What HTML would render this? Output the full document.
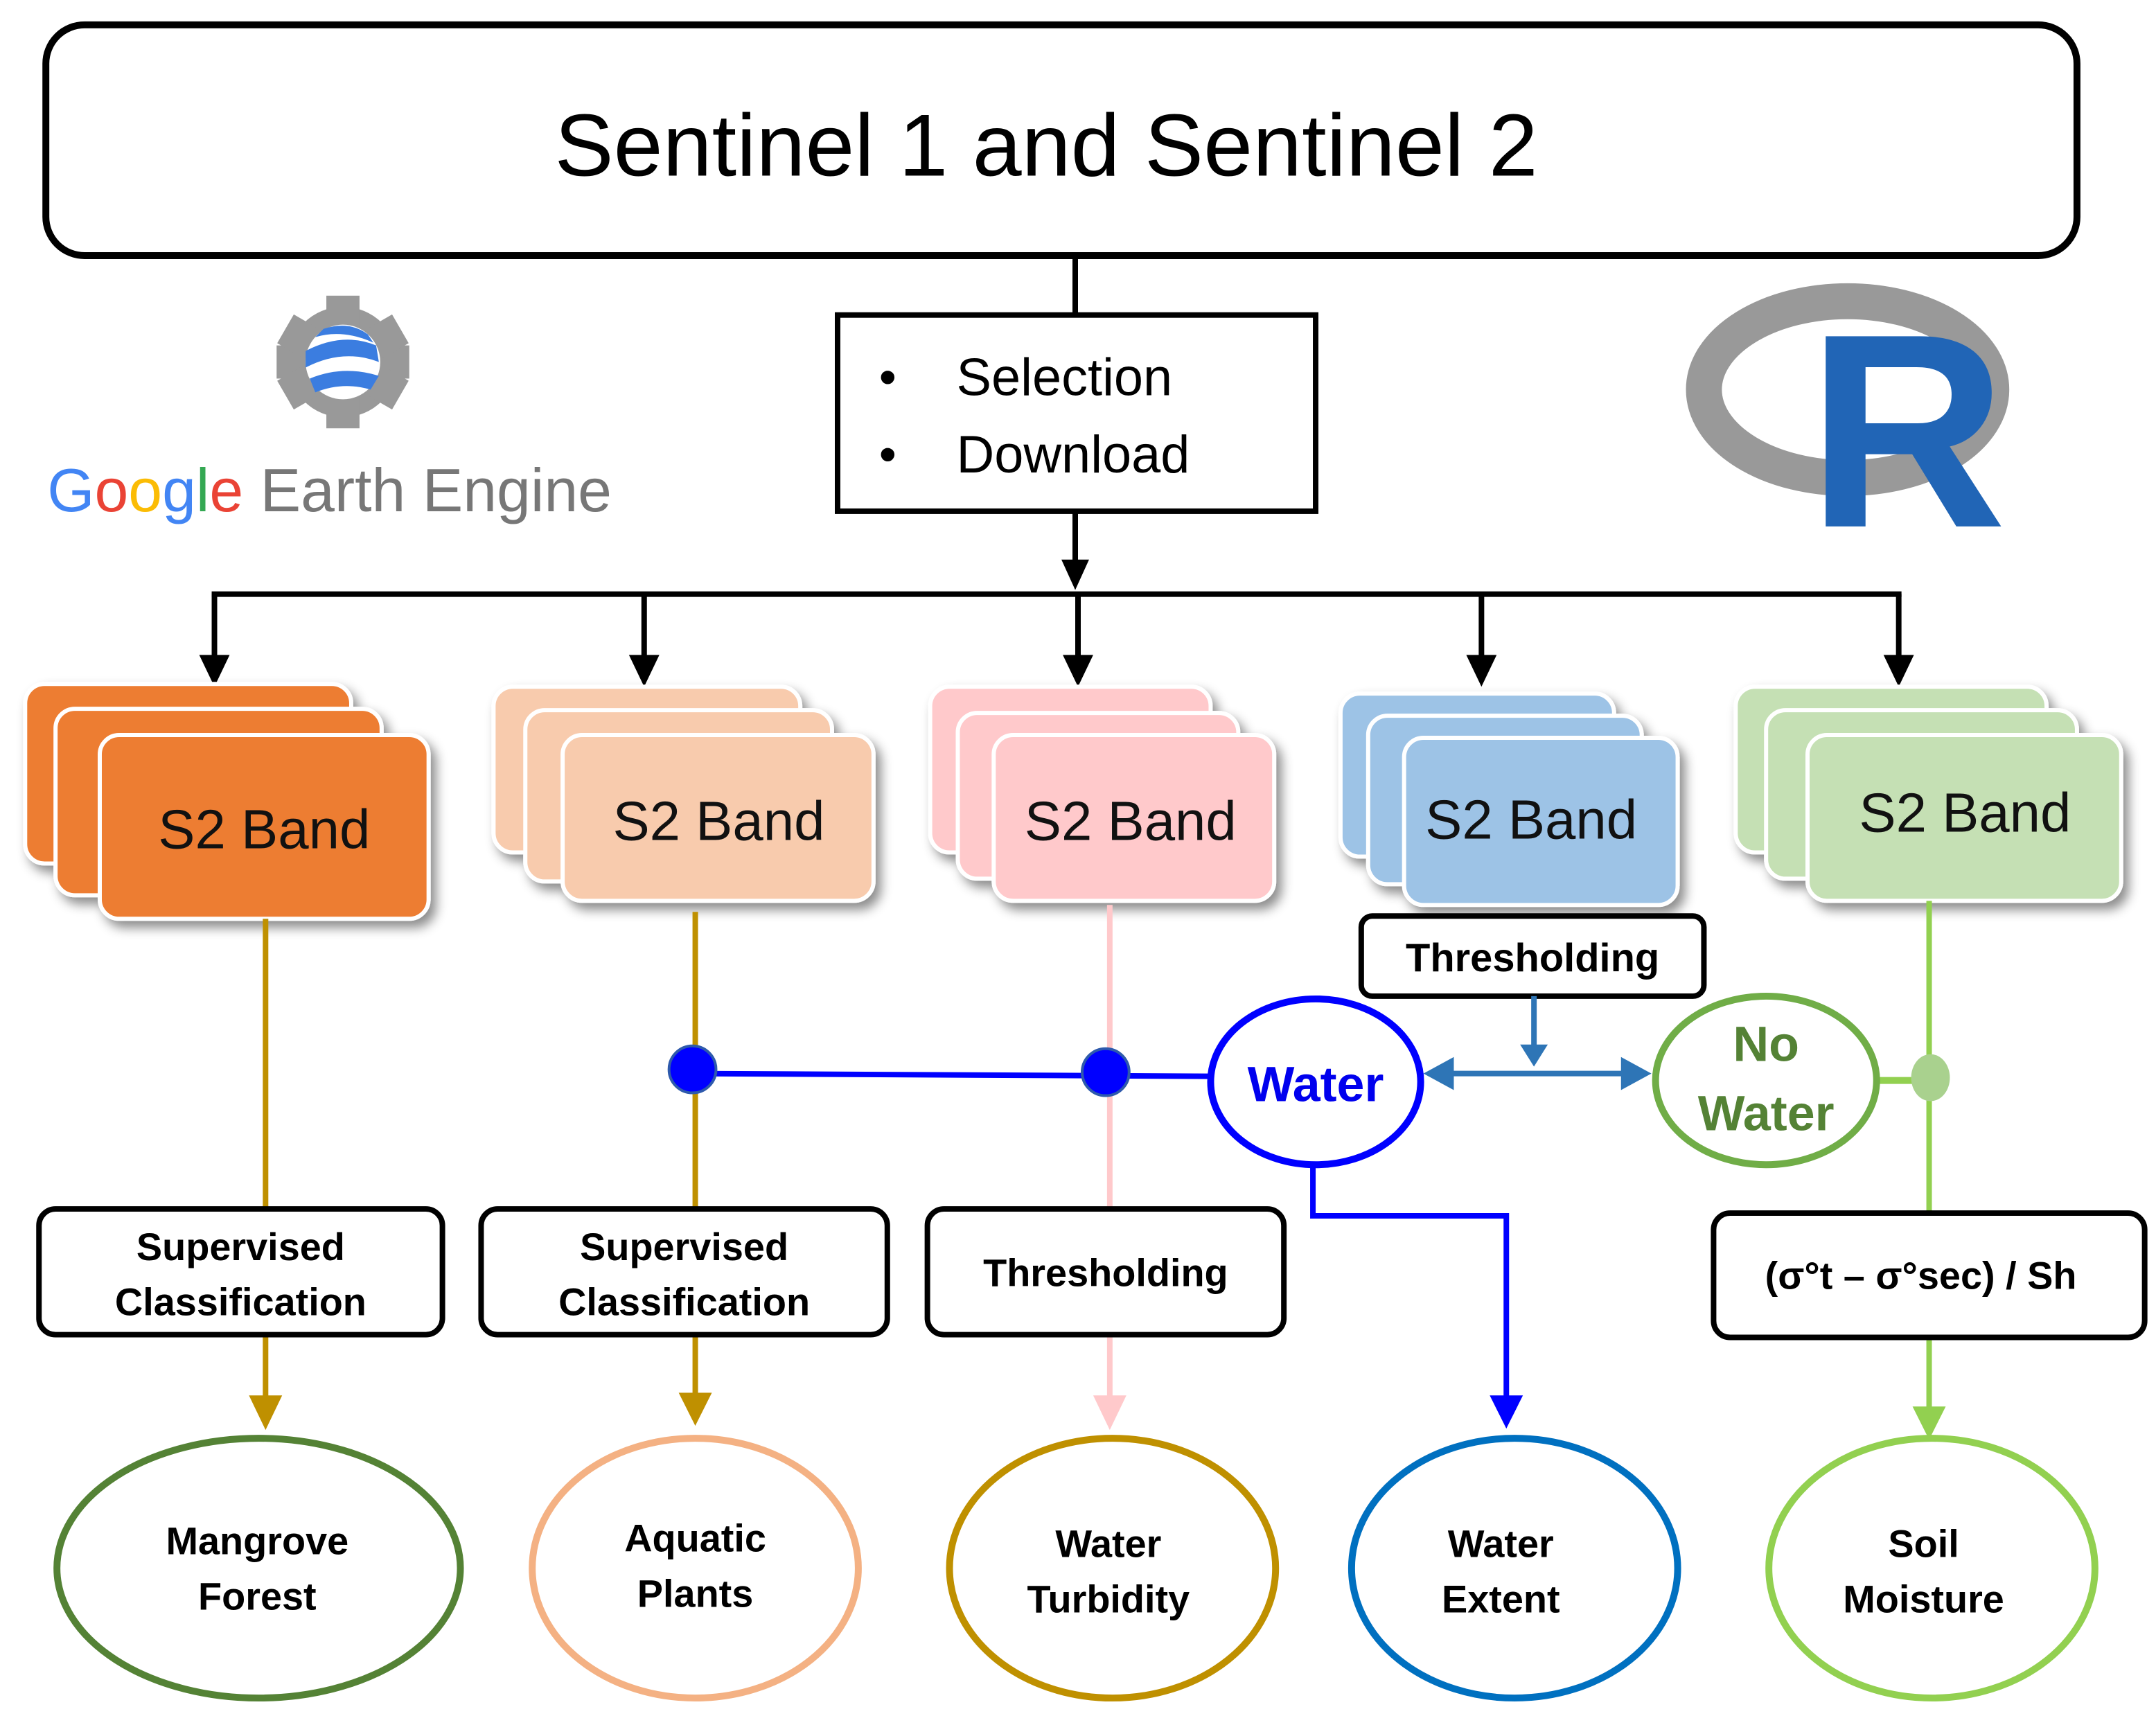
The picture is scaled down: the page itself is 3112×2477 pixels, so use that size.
<!DOCTYPE html>
<html><head><meta charset="utf-8"><style>html,body{margin:0;padding:0;background:#fff}svg{display:block}</style></head>
<body>
<svg width="3112" height="2477" viewBox="0 0 1560 1242" xmlns="http://www.w3.org/2000/svg" font-family="Liberation Sans, sans-serif">
<defs>
<filter id="sh" x="-10%" y="-10%" width="130%" height="130%"><feDropShadow dx="4" dy="5" stdDeviation="4" flood-color="#000" flood-opacity="0.45"/></filter>
<marker id="ak" markerWidth="6" markerHeight="6" refX="5" refY="3" orient="auto" markerUnits="strokeWidth"><path d="M0,0 L6,3 L0,6 z" fill="#000"/></marker>
</defs>
<rect width="1560" height="1242" fill="#fff"/>
<!-- top box -->
<rect x="33" y="18" width="1470" height="167" rx="28" fill="#fff" stroke="#000" stroke-width="5"/>
<text x="757" y="127" font-size="64" text-anchor="middle">Sentinel 1 and Sentinel 2</text>
<line x1="778" y1="185" x2="778" y2="228" stroke="#000" stroke-width="4"/>
<rect x="606" y="228" width="346" height="142" fill="#fff" stroke="#000" stroke-width="4"/>
<text x="636" y="285" font-size="36">•</text><text x="692" y="286" font-size="38">Selection</text>
<text x="636" y="341" font-size="36">•</text><text x="692" y="342" font-size="38">Download</text>
<line x1="778" y1="370" x2="778" y2="410" stroke="#000" stroke-width="4"/>
<path d="M768,405 L788,405 L778,427 z"/>
<line x1="153" y1="430" x2="1376" y2="430" stroke="#000" stroke-width="4"/>
<g stroke="#000" stroke-width="4">
<line x1="155" y1="430" x2="155" y2="478"/><line x1="466" y1="430" x2="466" y2="478"/><line x1="780" y1="430" x2="780" y2="478"/><line x1="1072" y1="430" x2="1072" y2="478"/><line x1="1374" y1="430" x2="1374" y2="478"/></g>
<g fill="#000"><path d="M144,474 L166,474 L155,497z"/><path d="M455,474 L477,474 L466,497z"/><path d="M769,474 L791,474 L780,497z"/><path d="M1061,474 L1083,474 L1072,497z"/><path d="M1363,474 L1385,474 L1374,497z"/></g>
<!-- logos -->
<g transform="translate(248,262)">
<circle r="40" fill="#999"/>
<rect x="-12" y="-48" width="24" height="96" fill="#999"/><rect x="-48" y="-12" width="96" height="24" fill="#999"/>
<rect x="-12" y="-48" width="24" height="96" fill="#999" transform="rotate(60)"/><rect x="-12" y="-48" width="24" height="96" fill="#999" transform="rotate(-60)"/>
<circle r="27" fill="#fff"/>
<path d="M-27,-8 Q0,-22 24,-12 L26,0 Q0,-10 -27,4z" fill="#3b7de0"/>
<path d="M-24,12 Q0,2 26,10 L20,20 Q0,14 -20,22z" fill="#3b7de0"/>
<path d="M-14,-24 Q5,-30 18,-20 L22,-14 Q0,-24 -20,-18z" fill="#3b7de0"/>
</g>
<text x="34" y="370" font-size="44"><tspan fill="#4285F4">G</tspan><tspan fill="#EA4335">o</tspan><tspan fill="#FBBC05">o</tspan><tspan fill="#4285F4">g</tspan><tspan fill="#34A853">l</tspan><tspan fill="#EA4335">e</tspan><tspan fill="#777"> Earth Engine</tspan></text>
<ellipse cx="1337" cy="282" rx="104" ry="64" fill="none" stroke="#999" stroke-width="26"/>
<text x="1380" y="381" font-size="200" font-weight="bold" fill="#2165B6" text-anchor="middle">R</text>
<!-- cards -->
<g stroke="#fff" stroke-width="3" filter="url(#sh)">
<rect x="18" y="495" width="236" height="130" rx="14" fill="#ED7D31"/><rect x="40" y="513" width="236" height="135" rx="14" fill="#ED7D31"/><rect x="72" y="532" width="238" height="133" rx="14" fill="#ED7D31"/>
<rect x="357" y="497" width="222" height="120" rx="14" fill="#F8CBAD"/><rect x="380" y="514" width="222" height="124" rx="14" fill="#F8CBAD"/><rect x="407" y="532" width="225" height="120" rx="14" fill="#F8CBAD"/>
<rect x="673" y="497" width="203" height="120" rx="14" fill="#FFC9CB"/><rect x="693" y="516" width="203" height="120" rx="14" fill="#FFC9CB"/><rect x="719" y="532" width="203" height="120" rx="14" fill="#FFC9CB"/>
<rect x="970" y="502" width="198" height="118" rx="14" fill="#9DC3E6"/><rect x="990" y="518" width="198" height="122" rx="14" fill="#9DC3E6"/><rect x="1016" y="534" width="198" height="121" rx="14" fill="#9DC3E6"/>
<rect x="1256" y="497" width="225" height="120" rx="14" fill="#C5E0B4"/><rect x="1278" y="514" width="225" height="122" rx="14" fill="#C5E0B4"/><rect x="1308" y="532" width="227" height="120" rx="14" fill="#C5E0B4"/>
</g>
<g font-size="40" text-anchor="middle" fill="#111">
<text x="191" y="614">S2 Band</text><text x="520" y="608">S2 Band</text><text x="818" y="608">S2 Band</text><text x="1108" y="607">S2 Band</text><text x="1422" y="602">S2 Band</text></g>
<!-- vertical lines -->
<line x1="192" y1="665" x2="192" y2="875" stroke="#BF9000" stroke-width="4"/>
<line x1="192" y1="966" x2="192" y2="1015" stroke="#BF9000" stroke-width="4"/><path d="M180,1010 L204,1010 L192,1035z" fill="#BF9000"/>
<line x1="503" y1="660" x2="503" y2="875" stroke="#BF9000" stroke-width="4"/>
<line x1="503" y1="966" x2="503" y2="1012" stroke="#BF9000" stroke-width="4"/><path d="M491,1008 L515,1008 L503,1032z" fill="#BF9000"/>
<line x1="803" y1="655" x2="803" y2="875" stroke="#FFC9CB" stroke-width="4"/>
<line x1="803" y1="966" x2="803" y2="1015" stroke="#FFC9CB" stroke-width="4"/><path d="M791,1010 L815,1010 L803,1035z" fill="#FFC9CB"/>
<line x1="1396" y1="652" x2="1396" y2="878" stroke="#92D050" stroke-width="4"/>
<line x1="1396" y1="968" x2="1396" y2="1020" stroke="#92D050" stroke-width="4"/><path d="M1384,1018 L1408,1018 L1396,1042z" fill="#92D050"/>
<line x1="1358" y1="782" x2="1396" y2="782" stroke="#92D050" stroke-width="5"/>
<ellipse cx="1397" cy="780" rx="14" ry="17" fill="#A9D18E"/>
<!-- blue connectors -->
<line x1="501" y1="777" x2="878" y2="779" stroke="#0000FF" stroke-width="4"/>
<circle cx="501" cy="774" r="17" fill="#0000FF" stroke="#2E5AAC" stroke-width="2"/>
<circle cx="800" cy="776" r="17" fill="#0000FF" stroke="#2E5AAC" stroke-width="2"/>
<path d="M950,843 L950,880 L1090,880 L1090,1012" fill="none" stroke="#0000FF" stroke-width="4"/>
<path d="M1078,1010 L1102,1010 L1090,1034z" fill="#0000FF"/>
<rect x="985" y="663" width="248" height="58" rx="8" fill="#fff" stroke="#000" stroke-width="4"/>
<text x="1109" y="703" font-size="29" font-weight="bold" text-anchor="middle">Thresholding</text>
<line x1="1110" y1="721" x2="1110" y2="758" stroke="#2E75B6" stroke-width="4"/><path d="M1100,756 L1120,756 L1110,772z" fill="#2E75B6"/>
<line x1="1045" y1="777" x2="1180" y2="777" stroke="#2E75B6" stroke-width="4"/>
<path d="M1030,777 L1052,765 L1052,789z" fill="#2E75B6"/><path d="M1195,777 L1173,765 L1173,789z" fill="#2E75B6"/>
<ellipse cx="952" cy="783" rx="76" ry="60" fill="#fff" stroke="#0000FF" stroke-width="5"/>
<text x="952" y="797" font-size="36" font-weight="bold" fill="#0000EE" text-anchor="middle">Water</text>
<ellipse cx="1278" cy="782" rx="80" ry="61" fill="#fff" stroke="#70AD47" stroke-width="5"/>
<text x="1278" y="768" font-size="36" font-weight="bold" fill="#548235" text-anchor="middle">No</text>
<text x="1278" y="818" font-size="36" font-weight="bold" fill="#548235" text-anchor="middle">Water</text>
<!-- process boxes -->
<g fill="#fff" stroke="#000" stroke-width="4">
<rect x="28" y="875" width="292" height="91" rx="12"/><rect x="348" y="875" width="294" height="91" rx="12"/><rect x="671" y="875" width="258" height="91" rx="12"/><rect x="1240" y="878" width="312" height="90" rx="12"/></g>
<g font-size="28" font-weight="bold" text-anchor="middle">
<text x="174" y="912">Supervised</text><text x="174" y="952">Classification</text>
<text x="495" y="912">Supervised</text><text x="495" y="952">Classification</text>
<text x="800" y="931">Thresholding</text>
<text x="1390" y="933">(σ°t – σ°sec) / Sh</text></g>
<!-- outputs -->
<g fill="#fff" stroke-width="5">
<ellipse cx="187" cy="1135" rx="146" ry="94" stroke="#548235"/>
<ellipse cx="503" cy="1135" rx="118" ry="94" stroke="#F4B183"/>
<ellipse cx="805" cy="1135" rx="118" ry="94" stroke="#BF9000"/>
<ellipse cx="1096" cy="1135" rx="118" ry="94" stroke="#0070C0"/>
<ellipse cx="1398" cy="1135" rx="118" ry="94" stroke="#92D050"/></g>
<g font-size="28" font-weight="bold" text-anchor="middle">
<text x="186" y="1125">Mangrove</text><text x="186" y="1165">Forest</text>
<text x="503" y="1123">Aquatic</text><text x="503" y="1163">Plants</text>
<text x="802" y="1127">Water</text><text x="802" y="1167">Turbidity</text>
<text x="1086" y="1127">Water</text><text x="1086" y="1167">Extent</text>
<text x="1392" y="1127">Soil</text><text x="1392" y="1167">Moisture</text></g>
</svg>
</body></html>
